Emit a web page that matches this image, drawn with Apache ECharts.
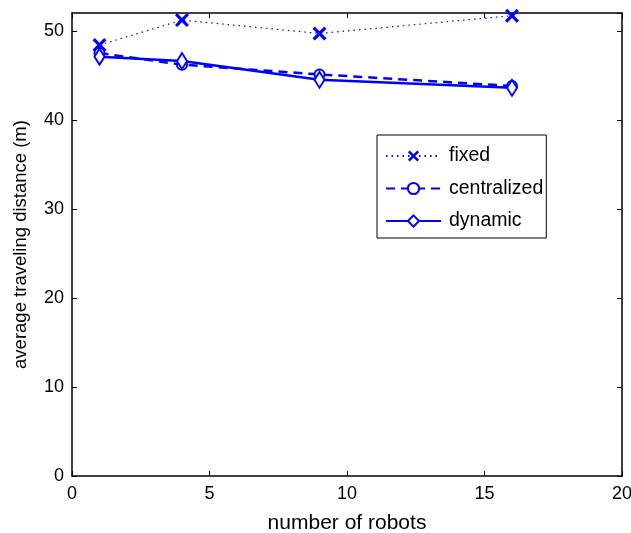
<!DOCTYPE html>
<html>
<head>
<meta charset="utf-8">
<script src="https://cdn.jsdelivr.net/npm/echarts@6/dist/echarts.min.js"></script>
<style>
  html, body { margin: 0; padding: 0; background: #fff; }
  #chart { width: 631px; height: 533px; }
</style>
</head>
<body>
<div id="chart"></div>
<script>
// Number of robots on the x axis
const robots = [1, 4, 9, 16];
// Average traveling distance (m) for each allocation strategy
const fixedDist = [48.4, 51.2, 49.7, 51.7];
const centralizedDist = [47.5, 46.2, 45.1, 43.8];
const dynamicDist = [47.1, 46.6, 44.5, 43.6];

const seriesNames = ['fixed', 'centralized', 'dynamic'];
const xTicks = [0, 5, 10, 15, 20];
const yTicks = [0, 10, 20, 30, 40, 50];
const yMax = 52;

const BLUE = '#0000ff';
const FONT = 'Liberation Sans, Arial, Helvetica, sans-serif';
const X_MARK = 'path://M0,1.6L1.6,0L5,3.4L8.4,0L10,1.6L6.6,5L10,8.4L8.4,10L5,6.6L1.6,10L0,8.4L3.4,5Z';

const pairs = (ys) => robots.map((x, i) => [x, ys[i]]);

const chart = echarts.init(document.getElementById('chart'), null, { renderer: 'canvas' });

// Shared box-style axis look: black frame, short inward ticks, no grid lines
const frameAxis = () => ({
  axisLine: { show: true, onZero: false, lineStyle: { color: '#000', width: 1.5 } },
  axisTick: { show: true, inside: true, length: 5, lineStyle: { color: '#000', width: 1 } },
  splitLine: { show: false }
});

chart.setOption({
  animation: false,
  backgroundColor: '#fff',
  textStyle: { fontFamily: FONT },
  grid: { left: 72, right: 9, top: 13, bottom: 57, containLabel: false, outerBoundsMode: 'none' },
  legend: {
    orient: 'vertical',
    left: 377,
    top: 135,
    data: seriesNames,
    backgroundColor: '#fff',
    borderColor: '#000',
    borderWidth: 1,
    borderRadius: 0,
    padding: [11, 3, 7, 8],
    itemWidth: 55,
    itemHeight: 14,
    itemGap: 12.5,
    textStyle: { fontFamily: FONT, fontSize: 19.5, color: '#000', padding: [0, 0, 0, 3] }
  },
  xAxis: [
    Object.assign(frameAxis(), {
      type: 'value', min: xTicks[0], max: xTicks[xTicks.length - 1], interval: 5,
      name: 'number of robots', nameLocation: 'middle', nameGap: 37,
      nameTextStyle: { fontSize: 21, color: '#000', fontFamily: FONT },
      axisLabel: { fontSize: 18, color: '#000', margin: 9, fontFamily: FONT }
    }),
    Object.assign(frameAxis(), {
      type: 'value', position: 'top', min: xTicks[0], max: xTicks[xTicks.length - 1], interval: 5,
      axisLabel: { show: false }
    })
  ],
  yAxis: [
    Object.assign(frameAxis(), {
      type: 'value', min: yTicks[0], max: yMax, interval: 10,
      name: 'average traveling distance (m)', nameLocation: 'middle', nameGap: 42,
      nameTextStyle: { fontSize: 18.5, color: '#000', fontFamily: FONT },
      axisLabel: { fontSize: 18, color: '#000', margin: 8, fontFamily: FONT, showMaxLabel: false }
    }),
    Object.assign(frameAxis(), {
      type: 'value', position: 'right', min: yTicks[0], max: yMax, interval: 10,
      axisLabel: { show: false }
    })
  ],
  series: [
    {
      name: seriesNames[0], type: 'line', data: pairs(fixedDist),
      symbol: X_MARK, symbolSize: 14,
      itemStyle: { color: BLUE, borderWidth: 0 },
      lineStyle: { color: BLUE, width: 1.2, type: [1.5, 4] },
      z: 3
    },
    {
      name: seriesNames[1], type: 'line', data: pairs(centralizedDist),
      symbol: 'emptyCircle', symbolSize: 10,
      itemStyle: { color: BLUE, borderWidth: 2.5 },
      lineStyle: { color: BLUE, width: 2.5, type: [9, 6] },
      z: 4
    },
    {
      name: seriesNames[2], type: 'line', data: pairs(dynamicDist),
      symbol: 'emptyDiamond', symbolSize: [10, 16],
      itemStyle: { color: BLUE, borderWidth: 2.5 },
      lineStyle: { color: BLUE, width: 2.5 },
      z: 5
    }
  ]
});
</script>
</body>
</html>
